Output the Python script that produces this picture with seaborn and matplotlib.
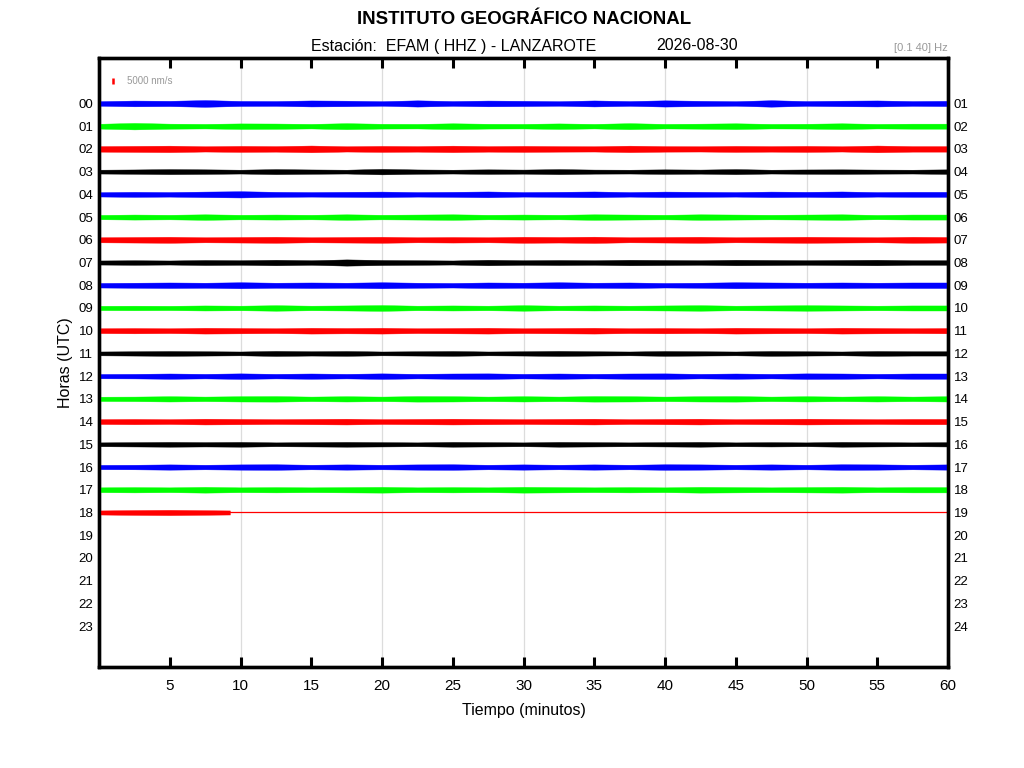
import numpy as np
import pandas as pd
import matplotlib
matplotlib.use("Agg")
import matplotlib.pyplot as plt
import seaborn as sns

# ---------------- data ----------------
hours_left = ["00", "01", "02", "03", "04", "05", "06", "07", "08", "09", "10", "11",
              "12", "13", "14", "15", "16", "17", "18", "19", "20", "21", "22", "23"]
hours_right = ["01", "02", "03", "04", "05", "06", "07", "08", "09", "10", "11", "12",
               "13", "14", "15", "16", "17", "18", "19", "20", "21", "22", "23", "24"]
x_ticks = [5, 10, 15, 20, 25, 30, 35, 40, 45, 50, 55, 60]
grid_minutes = [10, 20, 30, 40, 50]
trace_colors = ["#0000ff", "#00ff00", "#ff0000", "#000000"]

# envelope sample times (minutes) for full hours
env_minutes = [0, 2.5, 5, 7.5, 10, 12.5, 15, 17.5, 20, 22.5, 25, 27.5, 30,
               32.5, 35, 37.5, 40, 42.5, 45, 47.5, 50, 52.5, 55, 57.5, 60]

# half-amplitude envelope of each hourly trace (nm/s), read from the record
env_h00 = [1900, 2400, 2200, 2800, 2100, 2000, 2500, 2300, 1900, 2600, 2000, 2400, 2200,
           1900, 2500, 2000, 2600, 2200, 1900, 2700, 2000, 2300, 2500, 2000, 2200]
env_h01 = [2000, 2700, 2100, 1900, 2300, 2200, 1900, 2500, 2000, 1900, 2400, 2000, 1900,
           2300, 1900, 2500, 1900, 2100, 2400, 1900, 2000, 2400, 1900, 2100, 2100]
env_h02 = [2300, 2500, 2700, 2200, 2500, 2300, 2800, 2200, 2500, 2300, 2700, 2300, 2500,
           2300, 2200, 2700, 2300, 2200, 2500, 2300, 2500, 2200, 2800, 2300, 2300]
env_h03 = [1600, 1800, 2100, 1900, 1600, 2100, 1800, 1600, 2300, 1800, 1600, 1900, 1700,
           2100, 1700, 1600, 1900, 1700, 2100, 1600, 1800, 1900, 1700, 1600, 1900]
env_h04 = [1800, 2100, 1900, 2300, 2600, 2100, 1900, 2100, 2300, 1900, 2100, 2400, 1900,
           2100, 2400, 1900, 2300, 2100, 1900, 2300, 2100, 2400, 1900, 2100, 2100]
env_h05 = [1800, 2100, 1900, 2300, 1900, 2100, 1900, 2300, 1900, 2100, 2300, 1900, 2100,
           1900, 2300, 2100, 1900, 2300, 2100, 1900, 2100, 2300, 1800, 2100, 2100]
env_h06 = [2100, 2300, 2500, 2100, 2300, 2500, 2100, 2300, 2500, 2100, 2300, 2100, 2500,
           2300, 2600, 2100, 2300, 2500, 2100, 2300, 2500, 2300, 2100, 2500, 2300]
env_h07 = [1700, 1900, 1700, 2100, 1900, 2300, 1900, 2600, 2100, 1900, 1700, 2300, 1900,
           2100, 1900, 2300, 2100, 1900, 2300, 2100, 1900, 2100, 2300, 1900, 1900]
env_h08 = [1900, 2100, 2300, 2100, 2500, 2100, 2300, 2100, 2500, 2100, 1900, 2300, 2100,
           2500, 2100, 2300, 1900, 2100, 2500, 2300, 2100, 2300, 2100, 2300, 2300]
env_h09 = [1800, 1900, 1800, 2100, 1900, 2300, 1900, 2100, 2400, 1900, 2100, 1900, 2300,
           1900, 2100, 1900, 2100, 2300, 1900, 2100, 2300, 2100, 1900, 2100, 2100]
env_h10 = [2000, 2200, 2000, 2400, 2200, 2000, 2400, 2200, 2400, 2000, 2200, 2400, 2000,
           2200, 2400, 2000, 2200, 2000, 2400, 2200, 2000, 2400, 2200, 2000, 2200]
env_h11 = [1600, 1800, 2000, 1800, 1600, 2100, 1800, 2000, 1600, 1800, 2000, 1600, 1800,
           2100, 1800, 1600, 2000, 1800, 1600, 2000, 1800, 1600, 2000, 1800, 1800]
env_h12 = [1800, 1900, 2200, 1900, 2300, 1900, 2200, 1900, 2300, 1900, 2200, 2300, 1900,
           2200, 1900, 2200, 2300, 1900, 2200, 1900, 2300, 2200, 1900, 2200, 2200]
env_h13 = [1800, 1900, 2200, 1900, 2200, 2300, 1900, 2200, 1900, 2300, 2200, 1900, 2200,
           1900, 2300, 2200, 1900, 2200, 2300, 1900, 2200, 1900, 2200, 1900, 2200]
env_h14 = [2000, 2200, 2000, 2400, 2200, 2000, 2200, 2400, 2000, 2200, 2400, 2200, 2000,
           2200, 2400, 2000, 2200, 2400, 2000, 2200, 2400, 2200, 2000, 2200, 2200]
env_h15 = [1600, 1800, 2000, 1800, 2000, 1600, 1800, 2000, 1800, 1600, 2000, 1800, 1600,
           2000, 1800, 1600, 1800, 2000, 1600, 1800, 1600, 2000, 1800, 1600, 1800]
env_h16 = [1800, 1900, 2200, 1900, 2200, 2300, 1900, 2200, 1900, 2200, 2300, 1900, 2200,
           1900, 2200, 1900, 2300, 2200, 1900, 2200, 1900, 2300, 2200, 1900, 2200]
env_h17 = [2000, 2200, 2000, 2400, 2000, 2200, 2000, 2200, 2400, 2000, 2200, 2000, 2400,
           2200, 2000, 2200, 2000, 2400, 2200, 2000, 2200, 2400, 2000, 2200, 2200]

# last (incomplete) hour: signal until ~9.25 min, then flat line
env_minutes_h18 = [0, 2.5, 5, 7.5, 9.25]
env_h18 = [1700, 2000, 2200, 1900, 1700]

scale_value = 5000          # nm/s, scale bar
nm_per_unit = 19000         # nm/s per trace spacing unit

envelopes = [env_h00, env_h01, env_h02, env_h03, env_h04, env_h05, env_h06, env_h07,
             env_h08, env_h09, env_h10, env_h11, env_h12, env_h13, env_h14, env_h15,
             env_h16, env_h17]

# ---------------- figure ----------------
sns.set_theme(style="white")
plt.rcParams["font.family"] = ["Liberation Sans", "DejaVu Sans"]
plt.rcParams["text.color"] = "black"
plt.rcParams["axes.labelcolor"] = "black"
plt.rcParams["xtick.color"] = "black"
plt.rcParams["ytick.color"] = "black"

fig = plt.figure(figsize=(10.24, 7.68), dpi=100)
ax = fig.add_axes([99 / 1024, 1 - 667 / 768, (948 - 99) / 1024, (667 - 58) / 768])

# grid
for g in grid_minutes:
    ax.axvline(g, color="#dcdcdc", lw=0.9, zorder=0)

# center lines via seaborn
rows = []
for i, env in enumerate(envelopes):
    for m in (env_minutes[0], env_minutes[-1]):
        rows.append({"minute": m, "hour": i, "grp": hours_left[i]})
rows.append({"minute": 0, "hour": 18, "grp": "18"})
rows.append({"minute": 60, "hour": 18, "grp": "18"})
df = pd.DataFrame(rows)
pal = {hours_left[i]: trace_colors[i % 4] for i in range(19)}
sns.lineplot(data=df, x="minute", y="hour", hue="grp", palette=pal, lw=0.9,
             legend=False, ax=ax, estimator=None, sort=False, zorder=2)

# envelopes
xm = np.array(env_minutes)
for i, env in enumerate(envelopes):
    a = np.array(env) / nm_per_unit
    c = trace_colors[i % 4]
    ax.fill_between(xm, i - a, i + a, color=c, lw=0.3, edgecolor=c, zorder=3)
a18 = np.array(env_h18) / nm_per_unit
ax.fill_between(env_minutes_h18, 18 - a18, 18 + a18, color=trace_colors[18 % 4],
                lw=0.3, edgecolor=trace_colors[18 % 4], zorder=3)

# scale bar
sb = scale_value / nm_per_unit
ax.plot([1.0, 1.0], [-0.97 - sb / 2, -0.97 + sb / 2], color="#ff0000", lw=1.8,
        solid_capstyle="butt")
ax.text(2.0, -0.97, f"{scale_value} nm/s", color="#999999", fontsize=7, va="center")

ax.set_xlim(0, 60)
ax.set_ylim(24.8, -2)
ax.set_xticks(x_ticks)
ax.set_xticklabels([str(t) for t in x_ticks], fontsize=11)
ax.set_yticks(range(24))
ax.set_yticklabels(hours_left, fontsize=9.5)
ax.tick_params(axis="x", direction="in", length=7, width=2.2, top=True, bottom=True,
               pad=9, colors="black", labelcolor="black")
ax.tick_params(axis="y", length=0, pad=4, labelcolor="black")
ax.set_xlabel("Tiempo (minutos)", fontsize=11.5, labelpad=7, color="black")
ax.set_ylabel("Horas (UTC)", fontsize=11.5, labelpad=4, color="black")
for s in ax.spines.values():
    s.set_linewidth(2.4)
    s.set_color("black")
    s.set_visible(True)

ax2 = ax.twinx()
ax2.set_ylim(24.8, -2)
ax2.set_yticks(range(24))
ax2.set_yticklabels(hours_right, fontsize=9.5)
ax2.tick_params(axis="y", length=0, pad=4, labelcolor="black")
ax2.grid(False)
for s in ax2.spines.values():
    s.set_linewidth(2.4)
    s.set_color("black")
ax.grid(False)

fig.text(524 / 1024, 1 - 20 / 768, "INSTITUTO GEOGRÁFICO NACIONAL", ha="center",
         va="center", fontsize=13.4, fontweight="bold", color="black")
fig.text(454 / 1024, 1 - 46 / 768, "Estación:  EFAM ( HHZ ) - LANZAROTE", ha="center",
         va="center", fontsize=11.5, color="black")
fig.text(697 / 1024, 1 - 46 / 768, "2026-08-30", ha="center", va="center", fontsize=11.5,
         color="black")
fig.text(948 / 1024, 1 - 48 / 768, "[0.1 40] Hz", ha="right", va="center", fontsize=8,
         color="#999999")

fig.savefig("out.png", dpi=100)
